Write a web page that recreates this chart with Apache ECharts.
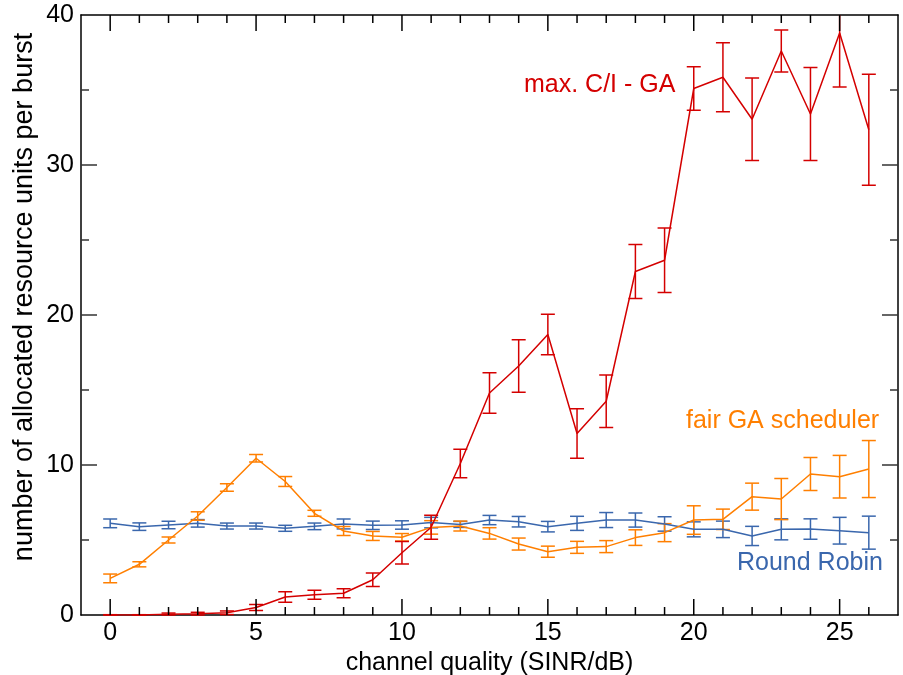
<!DOCTYPE html>
<html>
<head>
<meta charset="utf-8">
<script src="https://cdn.jsdelivr.net/npm/echarts@6/dist/echarts.min.js"></script>
<style>
  html, body { margin: 0; padding: 0; background: #fff; }
  #chart { width: 903px; height: 675px; }
</style>
</head>
<body>
<div id="chart"></div>
<script>
// SINR steps (dB)
const sinr = [0, 1, 2, 3, 4, 5, 6, 7, 8, 9, 10, 11, 12, 13, 14, 15, 16, 17, 18, 19, 20, 21, 22, 23, 24, 25, 26];

// max. C/I - GA
const maxCI = [0, 0, 0.05, 0.08, 0.15, 0.5, 1.2, 1.35, 1.45, 2.35, 4.15, 5.85, 10.1, 14.8, 16.6, 18.7, 12.1, 14.25, 22.9, 23.65, 35.1, 35.85, 33.05, 37.6, 33.4, 38.8, 32.35];
const maxCIErr = [0.02, 0.02, 0.08, 0.1, 0.12, 0.2, 0.35, 0.3, 0.3, 0.45, 0.75, 0.8, 0.95, 1.35, 1.75, 1.35, 1.65, 1.75, 1.8, 2.15, 1.45, 2.3, 2.75, 1.4, 3.1, 3.6, 3.7];

// fair GA scheduler
const fairGA = [2.44, 3.38, 5.0, 6.6, 8.5, 10.45, 8.9, 6.78, 5.6, 5.27, 5.18, 5.84, 5.93, 5.44, 4.73, 4.22, 4.51, 4.56, 5.16, 5.49, 6.33, 6.38, 7.89, 7.73, 9.4, 9.22, 9.73];
const fairGAErr = [0.29, 0.17, 0.2, 0.28, 0.25, 0.25, 0.33, 0.2, 0.3, 0.3, 0.25, 0.45, 0.33, 0.38, 0.4, 0.37, 0.4, 0.4, 0.52, 0.6, 0.95, 0.68, 0.9, 1.37, 1.1, 1.42, 1.9];

// Round Robin
const roundRobin = [6.11, 5.89, 6.0, 6.11, 5.93, 5.93, 5.78, 5.91, 6.07, 5.98, 6.0, 6.16, 6.04, 6.33, 6.22, 5.89, 6.11, 6.33, 6.33, 6.07, 5.71, 5.71, 5.27, 5.71, 5.73, 5.62, 5.49];
const roundRobinErr = [0.29, 0.25, 0.25, 0.25, 0.2, 0.2, 0.2, 0.22, 0.33, 0.28, 0.28, 0.35, 0.2, 0.31, 0.35, 0.35, 0.47, 0.5, 0.47, 0.48, 0.5, 0.55, 0.64, 0.7, 0.68, 0.89, 1.1];

// frame tick values (long ones on multiples of 5 / 10)
const xTickVals = [0, 1, 2, 3, 4, 5, 6, 7, 8, 9, 10, 11, 12, 13, 14, 15, 16, 17, 18, 19, 20, 21, 22, 23, 24, 25, 26];
const yTickVals = [5, 10, 15, 20, 25, 30, 35];

const FONT = 'Liberation Sans';
const RED = '#d40000';
const ORANGE = '#ff7f00';
const BLUE = '#3a67ad';
const X_MIN = -1, X_MAX = 27, Y_MAX = 40;

function xAx(pos, labels, extra) {
  return Object.assign({
    type: 'value', min: X_MIN, max: X_MAX, interval: 1, position: pos,
    axisLine: { show: true, onZero: false, lineStyle: { color: '#000', width: 1.5 } },
    axisTick: { show: false },
    axisLabel: labels ? {
      fontSize: 25, fontFamily: FONT, color: '#000', margin: 6,
      formatter: v => (v % 5 === 0 && v >= 0 && v <= 25) ? String(v) : ''
    } : { show: false },
    splitLine: { show: false }
  }, extra || {});
}

function yAx(pos, labels) {
  return {
    type: 'value', min: 0, max: Y_MAX, interval: 10, position: pos,
    axisLine: { show: true, onZero: false, lineStyle: { color: '#000', width: 1.5 } },
    axisTick: { show: false },
    axisLabel: labels ? { fontSize: 25, fontFamily: FONT, color: '#000', margin: 7 } : { show: false },
    splitLine: { show: false }
  };
}

function lineSeries(vals, color) {
  return {
    type: 'line', xAxisIndex: 0, yAxisIndex: 0,
    data: sinr.map((x, i) => [x, vals[i]]),
    showSymbol: false, symbol: 'none',
    lineStyle: { color: color, width: 1.5 },
    itemStyle: { color: color }, z: 3
  };
}

function errSeries(vals, errs, color) {
  return {
    type: 'custom', xAxisIndex: 0, yAxisIndex: 0, z: 3,
    data: sinr.map((x, i) => [x, vals[i], errs[i]]),
    renderItem: function (params, api) {
      const x = api.value(0), y = api.value(1), e = api.value(2);
      const hi = api.coord([x, Math.min(y + e, Y_MAX)]);
      const lo = api.coord([x, Math.max(y - e, 0)]);
      const hw = 7;
      const style = { stroke: color, lineWidth: 1.5, fill: null };
      const kids = [
        { type: 'line', shape: { x1: hi[0], y1: hi[1], x2: lo[0], y2: lo[1] }, style: style },
        { type: 'line', shape: { x1: lo[0] - hw, y1: lo[1], x2: lo[0] + hw, y2: lo[1] }, style: style }
      ];
      if (y + e <= Y_MAX) {
        kids.push({ type: 'line', shape: { x1: hi[0] - hw, y1: hi[1], x2: hi[0] + hw, y2: hi[1] }, style: style });
      }
      return { type: 'group', children: kids };
    }
  };
}

// inward ticks on all four sides, placed through the axis scales
// item: [x, y, length, kind]  kind 0 = x tick, 1 = y tick
const tickData = xTickVals.map(v => [v, 0, v % 5 === 0 ? 16 : 8, 0])
  .concat(yTickVals.map(v => [X_MIN, v, v % 10 === 0 ? 16 : 8, 1]));

const tickSeries = {
  type: 'custom', xAxisIndex: 0, yAxisIndex: 0, silent: true,
  zlevel: 1, z: 10,
  data: tickData,
  renderItem: function (params, api) {
    const len = api.value(2), kind = api.value(3);
    if (kind === 0) {
      const v = api.value(0);
      const b = api.coord([v, 0]), t = api.coord([v, Y_MAX]);
      const st = { stroke: '#000', lineWidth: 1.5, fill: null };
      return { type: 'group', children: [
        { type: 'line', shape: { x1: b[0], y1: b[1], x2: b[0], y2: b[1] - len }, style: st },
        { type: 'line', shape: { x1: t[0], y1: t[1], x2: t[0], y2: t[1] + len }, style: st }
      ] };
    }
    const v = api.value(1);
    const l = api.coord([X_MIN, v]), r = api.coord([X_MAX, v]);
    const st = { stroke: '#333', lineWidth: 1.5, fill: null };
    return { type: 'group', children: [
      { type: 'line', shape: { x1: l[0], y1: l[1], x2: l[0] + len, y2: l[1] }, style: st },
      { type: 'line', shape: { x1: r[0], y1: r[1], x2: r[0] - len, y2: r[1] }, style: st }
    ] };
  }
};

const chart = echarts.init(document.getElementById('chart'));
chart.setOption({
  animation: false,
  grid: { left: 81, top: 15, right: 5, bottom: 60, outerBoundsMode: 'none' },
  xAxis: [
    xAx('bottom', true, {
      name: 'channel quality (SINR/dB)', nameLocation: 'middle', nameGap: 31,
      nameTextStyle: { fontSize: 25, fontFamily: FONT, color: '#000' }
    }),
    xAx('top', false)
  ],
  yAxis: [yAx('left', true), yAx('right', false)],
  series: [
    lineSeries(roundRobin, BLUE),
    errSeries(roundRobin, roundRobinErr, BLUE),
    lineSeries(fairGA, ORANGE),
    errSeries(fairGA, fairGAErr, ORANGE),
    lineSeries(maxCI, RED),
    errSeries(maxCI, maxCIErr, RED),
    tickSeries
  ],
  graphic: [
    { type: 'text', x: 25, y: 297, rotation: Math.PI / 2,
      style: { text: 'number of allocated resource units per burst', font: '27px "Liberation Sans"', fill: '#000', textAlign: 'center', textVerticalAlign: 'middle' } },
    { type: 'text', left: 524, top: 73,
      style: { text: 'max. C/I - GA', font: '25px "Liberation Sans"', fill: RED } },
    { type: 'text', left: 686, top: 409,
      style: { text: 'fair GA scheduler', font: '25px "Liberation Sans"', fill: ORANGE } },
    { type: 'text', left: 737, top: 551,
      style: { text: 'Round Robin', font: '25px "Liberation Sans"', fill: BLUE } }
  ]
});
</script>
</body>
</html>
